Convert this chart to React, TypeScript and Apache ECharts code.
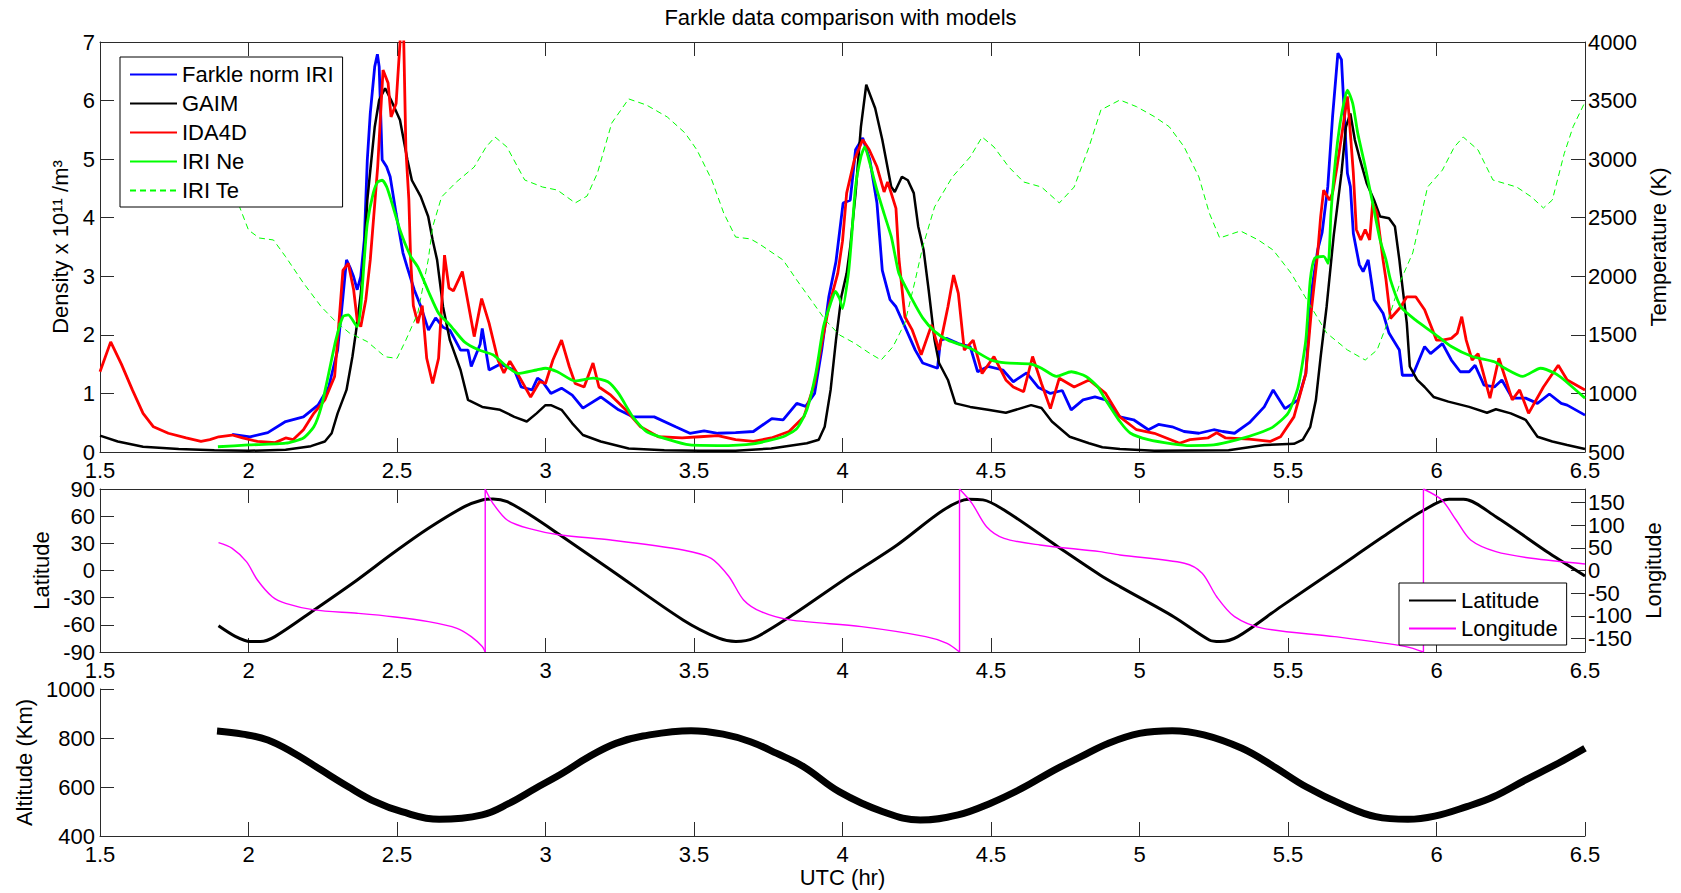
import React, { useEffect, useRef } from 'react';
import * as echarts from 'echarts';

type P = [number, number];

const FONT = '"Liberation Sans", Arial, Helvetica, sans-serif';
const AXC = '#2b2b2b';

const TITLE = 'Farkle data comparison with models';
const TOP_LEGEND = ['Farkle norm IRI', 'GAIM', 'IDA4D', 'IRI Ne', 'IRI Te'];
const MID_LEGEND = ['Latitude', 'Longitude'];
const LON_TICKS = [-150, -100, -50, 0, 50, 100, 150];

// Density x 10^11 /m^3 : [UTC hr, value]
const farkle: P[] = [
  [1.945, 0.30], [2.005, 0.26], [2.065, 0.33], [2.125, 0.52], [2.185, 0.60], [2.234, 0.80], [2.27, 1.11], [2.30, 1.74],
  [2.318, 2.65], [2.33, 3.28], [2.342, 3.15], [2.354, 2.99], [2.366, 2.77], [2.378, 3.0], [2.39, 3.62], [2.40, 4.99],
  [2.41, 5.78], [2.425, 6.58], [2.434, 6.79], [2.44, 6.58], [2.45, 4.99], [2.465, 4.87], [2.477, 4.7], [2.497, 4.07],
  [2.52, 3.4], [2.534, 3.16], [2.558, 2.77], [2.58, 2.49], [2.606, 2.08], [2.63, 2.29], [2.655, 2.13], [2.678, 2.08],
  [2.714, 1.74], [2.739, 1.74], [2.75, 1.46], [2.78, 1.84], [2.787, 2.11], [2.81, 1.40], [2.847, 1.5], [2.895, 1.4],
  [2.918, 1.11], [2.955, 1.06], [2.973, 1.26], [2.99, 1.2], [3.018, 1.0], [3.054, 1.09], [3.09, 0.97], [3.126, 0.75],
  [3.186, 0.94], [3.246, 0.72], [3.294, 0.60], [3.366, 0.60], [3.438, 0.43], [3.486, 0.32], [3.534, 0.36], [3.58, 0.32],
  [3.64, 0.33], [3.70, 0.35], [3.762, 0.57], [3.80, 0.55], [3.846, 0.83], [3.876, 0.78], [3.906, 1.0], [3.93, 1.74],
  [3.954, 2.65], [3.978, 3.25], [4.002, 4.25], [4.026, 4.3], [4.044, 5.16], [4.068, 5.36], [4.092, 4.99], [4.116, 4.25],
  [4.134, 3.1], [4.16, 2.6], [4.18, 2.48], [4.21, 2.14], [4.245, 1.74], [4.27, 1.52], [4.32, 1.43], [4.33, 1.91],
  [4.35, 1.94], [4.39, 1.85], [4.43, 1.8], [4.455, 1.37], [4.49, 1.46], [4.54, 1.4], [4.575, 1.2], [4.62, 1.35],
  [4.66, 1.1], [4.70, 1.0], [4.74, 1.05], [4.77, 0.72], [4.81, 0.89], [4.85, 0.94], [4.886, 0.89], [4.934, 0.60],
  [4.98, 0.55], [5.03, 0.38], [5.064, 0.47], [5.11, 0.43], [5.15, 0.35], [5.2, 0.32], [5.25, 0.38], [5.28, 0.35],
  [5.32, 0.32], [5.37, 0.5], [5.42, 0.77], [5.45, 1.06], [5.49, 0.74], [5.534, 0.89], [5.56, 1.34], [5.58, 2.77],
  [5.60, 3.45], [5.615, 3.75], [5.634, 4.53], [5.65, 5.72], [5.668, 6.81], [5.68, 6.7], [5.70, 4.76], [5.71, 4.53],
  [5.72, 3.73], [5.74, 3.2], [5.753, 3.08], [5.77, 3.28], [5.79, 2.6], [5.82, 2.37], [5.84, 2.03], [5.875, 1.74],
  [5.885, 1.31], [5.92, 1.31], [5.96, 1.8], [5.98, 1.68], [6.02, 1.85], [6.05, 1.57], [6.08, 1.37], [6.11, 1.37],
  [6.13, 1.48], [6.16, 1.14], [6.195, 1.11], [6.22, 1.23], [6.255, 0.92], [6.30, 0.92], [6.34, 0.83], [6.38, 0.99],
  [6.42, 0.83], [6.44, 0.8], [6.5, 0.63],
];

const gaim: P[] = [
  [1.5, 0.28], [1.56, 0.18], [1.645, 0.09], [1.765, 0.05], [1.885, 0.03], [2.0, 0.02], [2.125, 0.04], [2.21, 0.1],
  [2.257, 0.18], [2.28, 0.32], [2.30, 0.66], [2.33, 1.06], [2.35, 1.63], [2.366, 2.2], [2.378, 2.7], [2.39, 3.4],
  [2.40, 4.3], [2.425, 5.55], [2.44, 6.01], [2.46, 6.21], [2.48, 6.01], [2.51, 5.67], [2.535, 4.99], [2.55, 4.64],
  [2.58, 4.36], [2.605, 4.02], [2.62, 3.62], [2.635, 3.28], [2.655, 2.48], [2.678, 1.91], [2.714, 1.4], [2.739, 0.89],
  [2.787, 0.77], [2.847, 0.72], [2.895, 0.6], [2.937, 0.52], [2.97, 0.66], [3.0, 0.8], [3.018, 0.8], [3.054, 0.72],
  [3.09, 0.49], [3.126, 0.29], [3.186, 0.18], [3.28, 0.06], [3.40, 0.03], [3.52, 0.02], [3.64, 0.02], [3.76, 0.06],
  [3.88, 0.15], [3.92, 0.21], [3.94, 0.43], [3.96, 1.06], [3.978, 1.91], [3.996, 2.65], [4.014, 3.05], [4.026, 3.5],
  [4.044, 4.42], [4.062, 5.55], [4.08, 6.27], [4.11, 5.87], [4.134, 5.33], [4.164, 4.53], [4.176, 4.44], [4.2, 4.7],
  [4.22, 4.64], [4.24, 4.42], [4.255, 3.85], [4.273, 3.45], [4.29, 2.77], [4.31, 1.91], [4.325, 1.52], [4.355, 1.23],
  [4.38, 0.83], [4.43, 0.77], [4.49, 0.72], [4.55, 0.67], [4.635, 0.8], [4.67, 0.75], [4.705, 0.52], [4.765, 0.26],
  [4.83, 0.15], [4.875, 0.08], [4.934, 0.05], [5.05, 0.02], [5.3, 0.03], [5.42, 0.12], [5.52, 0.14], [5.55, 0.21],
  [5.575, 0.43], [5.594, 0.89], [5.61, 1.63], [5.63, 2.48], [5.654, 3.7], [5.68, 4.76], [5.695, 5.55], [5.71, 5.78],
  [5.725, 5.33], [5.74, 5.04], [5.765, 4.59], [5.79, 4.3], [5.81, 4.02], [5.84, 3.99], [5.86, 3.85], [5.875, 3.28],
  [5.88, 3.05], [5.90, 2.2], [5.91, 1.46], [5.935, 1.23], [5.96, 1.11], [5.99, 0.94], [6.04, 0.86], [6.11, 0.77],
  [6.17, 0.67], [6.20, 0.73], [6.25, 0.66], [6.30, 0.55], [6.34, 0.26], [6.39, 0.18], [6.44, 0.12], [6.5, 0.05],
];

const ida4d: P[] = [
  [1.5, 1.37], [1.536, 1.88], [1.572, 1.5], [1.609, 1.06], [1.645, 0.66], [1.68, 0.43], [1.73, 0.32], [1.79, 0.24],
  [1.84, 0.18], [1.87, 0.21], [1.9, 0.26], [1.945, 0.29], [1.98, 0.24], [2.03, 0.18], [2.09, 0.16], [2.125, 0.24],
  [2.15, 0.21], [2.185, 0.38], [2.22, 0.66], [2.257, 0.89], [2.29, 1.29], [2.30, 1.91], [2.318, 3.1], [2.336, 3.22],
  [2.354, 2.77], [2.366, 2.25], [2.378, 2.14], [2.395, 2.6], [2.41, 3.28], [2.435, 4.87], [2.453, 6.52], [2.47, 6.3],
  [2.48, 5.72], [2.497, 5.95], [2.51, 6.98], [2.515, 7.4], [2.522, 7.2], [2.53, 5.16], [2.54, 4.3], [2.546, 3.28],
  [2.555, 2.5], [2.57, 2.2], [2.585, 2.5], [2.60, 1.6], [2.62, 1.17], [2.64, 1.6], [2.66, 3.36], [2.675, 2.8],
  [2.69, 2.75], [2.72, 3.08], [2.76, 1.97], [2.785, 2.62], [2.81, 2.2], [2.84, 1.57], [2.86, 1.35], [2.88, 1.55],
  [2.91, 1.3], [2.95, 0.94], [2.98, 1.2], [3.0, 1.17], [3.025, 1.57], [3.054, 1.91], [3.08, 1.46], [3.10, 1.17],
  [3.13, 1.11], [3.16, 1.52], [3.18, 1.11], [3.22, 0.97], [3.27, 0.72], [3.32, 0.43], [3.38, 0.26], [3.46, 0.24],
  [3.52, 0.26], [3.58, 0.28], [3.64, 0.21], [3.70, 0.18], [3.76, 0.24], [3.82, 0.35], [3.87, 0.6], [3.906, 1.17],
  [3.93, 1.85], [3.954, 2.48], [3.984, 3.05], [4.0, 3.6], [4.014, 4.42], [4.04, 4.99], [4.068, 5.33], [4.09, 5.16],
  [4.116, 4.87], [4.14, 4.44], [4.152, 4.61], [4.164, 4.42], [4.18, 4.16], [4.19, 3.3], [4.21, 2.31], [4.235, 2.08],
  [4.265, 1.66], [4.30, 2.17], [4.325, 1.74], [4.355, 2.48], [4.374, 3.02], [4.39, 2.71], [4.41, 1.74], [4.44, 1.91],
  [4.47, 1.34], [4.51, 1.63], [4.55, 1.23], [4.575, 1.11], [4.61, 1.03], [4.64, 1.63], [4.67, 1.17], [4.70, 0.74],
  [4.73, 1.26], [4.78, 1.11], [4.83, 1.23], [4.886, 1.0], [4.934, 0.6], [4.99, 0.38], [5.05, 0.32], [5.135, 0.15],
  [5.17, 0.21], [5.23, 0.24], [5.26, 0.33], [5.29, 0.24], [5.37, 0.22], [5.44, 0.18], [5.475, 0.26], [5.52, 0.6],
  [5.56, 1.34], [5.58, 2.48], [5.60, 3.4], [5.61, 4.02], [5.62, 4.47], [5.64, 4.3], [5.65, 4.42], [5.665, 4.87],
  [5.685, 5.55], [5.70, 6.07], [5.705, 5.78], [5.72, 4.76], [5.73, 3.8], [5.745, 3.62], [5.76, 3.8], [5.775, 3.62],
  [5.785, 4.25], [5.80, 4.07], [5.82, 3.28], [5.83, 2.94], [5.845, 2.28], [5.88, 2.48], [5.90, 2.65], [5.93, 2.65],
  [5.96, 2.43], [6.00, 1.91], [6.02, 1.91], [6.05, 1.94], [6.07, 2.03], [6.085, 2.31], [6.10, 1.91], [6.12, 1.57],
  [6.14, 1.68], [6.18, 0.92], [6.21, 1.6], [6.23, 1.29], [6.255, 0.89], [6.28, 1.06], [6.31, 0.66], [6.36, 1.11],
  [6.41, 1.48], [6.44, 1.23], [6.5, 1.06],
];

const iriNe: P[] = [
  [1.897, 0.09], [2.0, 0.12], [2.125, 0.15], [2.185, 0.24], [2.22, 0.43], [2.245, 0.77], [2.27, 1.34], [2.294, 1.91],
  [2.318, 2.31], [2.336, 2.34], [2.366, 2.14], [2.378, 2.48], [2.39, 3.3], [2.40, 3.9], [2.42, 4.42], [2.435, 4.61],
  [2.45, 4.64], [2.465, 4.53], [2.48, 4.3], [2.51, 3.79], [2.546, 3.34], [2.57, 3.16], [2.606, 2.74], [2.64, 2.37],
  [2.678, 2.17], [2.727, 1.88], [2.776, 1.74], [2.823, 1.66], [2.87, 1.46], [2.907, 1.34], [2.97, 1.4], [3.0, 1.43],
  [3.04, 1.37], [3.10, 1.21], [3.16, 1.26], [3.21, 1.2], [3.246, 1.0], [3.294, 0.6], [3.34, 0.35], [3.415, 0.21],
  [3.486, 0.12], [3.58, 0.11], [3.70, 0.14], [3.80, 0.26], [3.846, 0.4], [3.88, 0.72], [3.91, 1.34], [3.936, 2.14],
  [3.96, 2.54], [3.976, 2.74], [3.99, 2.62], [4.0, 2.45], [4.02, 3.05], [4.03, 3.62], [4.044, 4.53], [4.062, 5.04],
  [4.075, 5.21], [4.092, 4.93], [4.116, 4.47], [4.14, 4.07], [4.164, 3.68], [4.18, 3.28], [4.19, 3.05], [4.235, 2.6],
  [4.27, 2.29], [4.31, 2.06], [4.355, 1.91], [4.43, 1.77], [4.50, 1.57], [4.55, 1.52], [4.635, 1.5], [4.67, 1.43],
  [4.72, 1.29], [4.77, 1.37], [4.82, 1.29], [4.86, 1.11], [4.88, 0.94], [4.934, 0.52], [4.97, 0.32], [5.03, 0.21],
  [5.11, 0.14], [5.17, 0.11], [5.25, 0.12], [5.33, 0.21], [5.40, 0.32], [5.45, 0.43], [5.50, 0.66], [5.534, 1.11],
  [5.56, 1.91], [5.575, 2.94], [5.59, 3.31], [5.62, 3.34], [5.635, 3.22], [5.645, 4.1], [5.66, 4.99], [5.675, 5.6],
  [5.69, 6.01], [5.70, 6.18], [5.718, 5.95], [5.735, 5.44], [5.76, 4.87], [5.785, 4.25], [5.81, 3.62], [5.83, 3.28],
  [5.845, 2.94], [5.88, 2.48], [5.93, 2.25], [5.99, 2.03], [6.05, 1.8], [6.12, 1.63], [6.195, 1.54], [6.23, 1.43],
  [6.29, 1.29], [6.35, 1.43], [6.40, 1.34], [6.43, 1.23], [6.5, 0.92],
];

// Temperature (K)
const iriTe: P[] = [
  [1.9, 3000], [1.97, 2592], [2.0, 2395], [2.036, 2327], [2.084, 2310], [2.125, 2167], [2.185, 1942], [2.245, 1740],
  [2.294, 1612], [2.34, 1516], [2.40, 1442], [2.46, 1313], [2.50, 1299], [2.53, 1456], [2.57, 1686], [2.605, 2139],
  [2.62, 2421], [2.65, 2677], [2.70, 2805], [2.76, 2933], [2.80, 3104], [2.83, 3189], [2.87, 3104], [2.93, 2822],
  [2.99, 2762], [3.04, 2736], [3.10, 2626], [3.14, 2685], [3.175, 2882], [3.223, 3308], [3.28, 3514], [3.34, 3462],
  [3.41, 3360], [3.47, 3223], [3.51, 3078], [3.56, 2822], [3.60, 2540], [3.64, 2335], [3.69, 2319], [3.72, 2276],
  [3.80, 2139], [3.846, 1968], [3.894, 1798], [3.942, 1627], [3.99, 1499], [4.04, 1430], [4.09, 1345], [4.13, 1285],
  [4.17, 1399], [4.21, 1601], [4.245, 1968], [4.27, 2250], [4.31, 2592], [4.37, 2848], [4.43, 3019], [4.47, 3189],
  [4.51, 3104], [4.56, 2933], [4.61, 2805], [4.67, 2762], [4.73, 2626], [4.78, 2762], [4.83, 3104], [4.87, 3420],
  [4.934, 3505], [4.99, 3448], [5.05, 3363], [5.10, 3277], [5.15, 3106], [5.20, 2848], [5.235, 2540], [5.27, 2327],
  [5.34, 2387], [5.40, 2310], [5.45, 2224], [5.51, 2028], [5.57, 1772], [5.63, 1516], [5.70, 1371], [5.76, 1285],
  [5.80, 1371], [5.83, 1570], [5.88, 1968], [5.92, 2199], [5.97, 2762], [6.02, 2907], [6.06, 3104], [6.09, 3189],
  [6.14, 3078], [6.19, 2822], [6.27, 2762], [6.32, 2677], [6.36, 2583], [6.39, 2651], [6.43, 3047], [6.46, 3277],
  [6.5, 3488],
];

// Latitude (deg)
const latitude: P[] = [
  [1.899, -61], [1.957, -73], [2.005, -78.5], [2.04, -78.5], [2.089, -73], [2.221, -43.6], [2.366, -10.4], [2.486, 19],
  [2.606, 46.6], [2.727, 70.5], [2.787, 77.9], [2.823, 79], [2.871, 76], [2.95, 61], [3.049, 39.2], [3.22, 0.6],
  [3.463, -54.6], [3.583, -74.8], [3.641, -78.5], [3.702, -74.8], [3.823, -51], [4.004, -10.4], [4.184, 28.2],
  [4.34, 66.8], [4.425, 78.6], [4.473, 78], [4.544, 66.8], [4.725, 26.3], [4.867, -4.9], [4.934, -17.8], [5.115, -51],
  [5.235, -76.7], [5.271, -78.5], [5.331, -73], [5.476, -39.9], [5.657, 0.6], [5.837, 41.1], [5.958, 66.8],
  [6.042, 78.6], [6.091, 78.6], [6.2, 59.4], [6.38, 19], [6.5, -6],
];

// Longitude (deg); the pairs sharing an x are the wrap from -180 to +180
const longitude: P[] = [
  [1.899, 61.4], [1.945, 49], [1.993, 19.5], [2.03, -21], [2.08, -58], [2.125, -72.5], [2.221, -87], [2.366, -94.5],
  [2.486, -102], [2.606, -113], [2.702, -127.7], [2.75, -146], [2.787, -168], [2.797, -180], [2.797, 180],
  [2.823, 148.4], [2.871, 111.5], [2.943, 93], [3.049, 78.4], [3.22, 67.4], [3.463, 45.3], [3.558, 27],
  [3.618, -13.7], [3.667, -65], [3.726, -91], [3.823, -109], [4.064, -124], [4.28, -146], [4.352, -160.8],
  [4.394, -180], [4.394, 180], [4.436, 148.4], [4.485, 96.7], [4.544, 71], [4.665, 56.3], [4.867, 41.6],
  [4.934, 34.2], [5.151, 16], [5.211, -6], [5.26, -58], [5.32, -102], [5.416, -127.7], [5.657, -146],
  [5.897, -168], [5.956, -180], [5.956, 180], [6.018, 155.7], [6.066, 111.5], [6.115, 67.4], [6.2, 41.6],
  [6.32, 27], [6.5, 14.4],
];

// Altitude (Km)
const altitude: P[] = [
  [1.894, 828.6], [1.98, 816], [2.065, 792], [2.155, 737], [2.245, 669], [2.336, 601], [2.426, 540], [2.516, 499],
  [2.642, 468], [2.787, 486], [2.877, 533], [2.967, 595], [3.057, 656], [3.147, 724], [3.237, 778], [3.328, 808],
  [3.49, 830], [3.598, 816], [3.69, 785], [3.779, 737], [3.869, 683], [3.99, 580], [4.136, 499], [4.262, 465],
  [4.389, 486], [4.497, 533], [4.605, 595], [4.713, 669], [4.803, 724], [4.894, 778], [5.0, 819], [5.11, 830],
  [5.217, 813], [5.345, 758], [5.453, 683], [5.561, 601], [5.687, 526], [5.795, 479], [5.904, 468], [5.994, 481],
  [6.102, 520], [6.192, 560], [6.30, 629], [6.41, 697], [6.5, 758],
];

// split a wrapped series into continuous pieces plus the vertical wrap segments
function splitWrap(data: P[]): P[][] {
  const pieces: P[][] = [];
  let cur: P[] = [data[0]];
  for (let i = 1; i < data.length; i++) {
    if (data[i][0] === data[i - 1][0]) {
      pieces.push(cur);
      pieces.push([data[i - 1], data[i]]);
      cur = [data[i]];
    } else {
      cur.push(data[i]);
    }
  }
  pieces.push(cur);
  return pieces;
}

const fmt = (v: number) => String(v);
const axisLine = { show: true, onZero: false, lineStyle: { color: AXC, width: 1 } };
const tick = (len: number) => ({ show: true, inside: true, length: len, lineStyle: { color: AXC, width: 1 } });
const lbl = (margin: number, extra: any = {}) => ({
  show: true, margin, color: '#000', fontSize: 22, fontFamily: FONT,
  showMinLabel: true, showMaxLabel: true, formatter: fmt, ...extra,
});
const nameStyle = { fontSize: 22, fontFamily: FONT, color: '#000' };

function xBottom(gridIndex: number, extra: any = {}) {
  return {
    type: 'value', gridIndex, position: 'bottom', min: 1.5, max: 6.5, interval: 0.5,
    axisLine, axisTick: tick(14), axisLabel: lbl(7), splitLine: { show: false }, ...extra,
  };
}
function xTop(gridIndex: number) {
  return {
    type: 'value', gridIndex, position: 'top', min: 1.5, max: 6.5, interval: 0.5,
    axisLine, axisTick: tick(14), axisLabel: { show: false }, splitLine: { show: false },
  };
}

function line(name: string, data: P[], xi: number, yi: number, color: string, width: number, extra: any = {}) {
  return {
    type: 'line', name, data, xAxisIndex: xi, yAxisIndex: yi, symbol: 'none', showSymbol: false,
    lineStyle: { color, width }, itemStyle: { color }, silent: true, clip: true, ...extra,
  };
}

export default function App() {
  const ref = useRef<HTMLDivElement>(null);
  useEffect(() => {
    if (!ref.current) return;
    const chart = echarts.init(ref.current, null, { renderer: 'svg', width: 1681, height: 893 });
    const legendBase = {
      orient: 'vertical', itemWidth: 47, itemHeight: 14, selectedMode: false,
      borderColor: '#000', borderWidth: 1, backgroundColor: '#fff', borderRadius: 0,
      itemStyle: { opacity: 0, borderWidth: 0 },
      textStyle: { fontSize: 22, fontFamily: FONT, color: '#000', lineHeight: 25 },
    };
    const lonSeries = splitWrap(longitude).map((seg) =>
      line('Longitude', seg, 2, 3, '#ff00ff', 1.4, { smooth: seg.length > 2 ? 0.3 : false }),
    );
    chart.setOption({
      animation: false,
      backgroundColor: '#fff',
      textStyle: { fontFamily: FONT },
      title: {
        text: TITLE, left: 'center', top: 6, padding: 0,
        textStyle: { fontSize: 22, fontWeight: 'normal', fontFamily: FONT, color: '#000' },
      },
      legend: [
        { ...legendBase, data: TOP_LEGEND, left: 120, top: 57, itemGap: 4, padding: [5, 9, 4, 9] },
        { ...legendBase, data: MID_LEGEND, left: 1399, top: 583, itemGap: 3, padding: [5, 9, 4, 9] },
      ],
      grid: [
        { left: 100, top: 42, width: 1485, height: 410 },
        { left: 100, top: 489, width: 1485, height: 163 },
        { left: 100, top: 689, width: 1485, height: 147 },
      ],
      xAxis: [
        xBottom(0), xTop(0), xBottom(1), xTop(1),
        xBottom(2, { name: 'UTC (hr)', nameLocation: 'middle', nameGap: 30, nameTextStyle: nameStyle }),
      ],
      yAxis: [
        {
          type: 'value', gridIndex: 0, position: 'left', min: 0, max: 7, interval: 1,
          axisLine, axisTick: tick(14), axisLabel: lbl(5), splitLine: { show: false },
          name: 'Density x 10\u00b9\u00b9 /m\u00b3', nameLocation: 'middle', nameRotate: 90, nameGap: 27, nameTextStyle: nameStyle,
        },
        {
          type: 'value', gridIndex: 0, position: 'right', min: 500, max: 4000, interval: 500,
          axisLine, axisTick: tick(14), axisLabel: lbl(3), splitLine: { show: false },
          name: 'Temperature (K)', nameLocation: 'middle', nameRotate: 90, nameGap: 60, nameTextStyle: nameStyle,
        },
        {
          type: 'value', gridIndex: 1, position: 'left', min: -90, max: 90, interval: 30,
          axisLine, axisTick: tick(14), axisLabel: lbl(5), splitLine: { show: false },
          name: 'Latitude', nameLocation: 'middle', nameRotate: 90, nameGap: 46, nameTextStyle: nameStyle,
        },
        {
          type: 'value', gridIndex: 1, position: 'right', min: -180, max: 180,
          axisLine, axisTick: { ...tick(14), customValues: LON_TICKS },
          axisLabel: lbl(3, { customValues: LON_TICKS }), splitLine: { show: false },
          name: 'Longitude', nameLocation: 'middle', nameRotate: 90, nameGap: 52, nameTextStyle: nameStyle,
        },
        {
          type: 'value', gridIndex: 2, position: 'left', min: 400, max: 1000, interval: 200,
          axisLine, axisTick: tick(14), axisLabel: lbl(5), splitLine: { show: false },
          name: 'Altitude (Km)', nameLocation: 'middle', nameRotate: 90, nameGap: 65, nameTextStyle: nameStyle,
        },
      ],
      series: [
        line('Farkle norm IRI', farkle, 0, 0, '#0000ff', 2.8),
        line('GAIM', gaim, 0, 0, '#000000', 2.5),
        line('IDA4D', ida4d, 0, 0, '#ff0000', 2.8),
        line('IRI Ne', iriNe, 0, 0, '#00ff00', 2.8, { smooth: 0.2 }),
        line('IRI Te', iriTe, 0, 1, '#00ff00', 1, { lineStyle: { color: '#00ff00', width: 1, type: [6, 4] } }),
        line('Latitude', latitude, 2, 2, '#000000', 3, { smooth: 0.3 }),
        ...lonSeries,
        line('Altitude', altitude, 4, 4, '#000000', 7, { smooth: 0.4 }),
      ],
    });
    return () => chart.dispose();
  }, []);
  return (
    <div
      ref={ref}
      style={{ position: 'absolute', left: 0, top: 0, width: 1681, height: 893, background: '#fff' }}
    />
  );
}
